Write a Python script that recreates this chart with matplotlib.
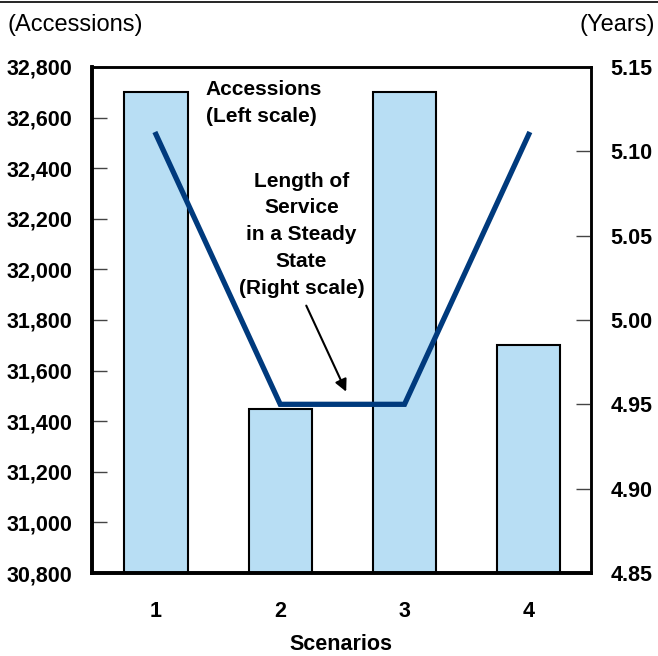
import matplotlib.pyplot as plt
from matplotlib.lines import Line2D

plt.rcParams['font.family'] = ['Liberation Sans', 'DejaVu Sans']

scenarios = [1, 2, 3, 4]
accessions = [32700, 31450, 32700, 31700]
service_years = [5.11, 4.95, 4.95, 5.11]
left_ticks = [30800, 31000, 31200, 31400, 31600, 31800, 32000, 32200, 32400, 32600, 32800]
right_ticks = [4.85, 4.90, 4.95, 5.00, 5.05, 5.10, 5.15]

fig = plt.figure(figsize=(6.58, 6.56), dpi=100)
ax = fig.add_axes([0.1398, 0.1265, 0.7582, 0.7715])

ax.bar(scenarios, accessions, width=0.51, color="#b8def4", edgecolor="black", linewidth=1.5, zorder=2)
ax.set_xlim(0.485, 4.5)
ax.set_ylim(30800, 32800)
ax.set_yticks(left_ticks)
ax.set_yticklabels([f"{v:,}" for v in left_ticks], fontsize=15.5, fontweight="bold")
ax.set_xticks(scenarios)
ax.set_xticklabels([str(s) for s in scenarios], fontsize=15.5, fontweight="bold")
ax.tick_params(axis="y", direction="in", length=11, width=1, color="#444444", pad=14)
ax.tick_params(axis="x", length=0, pad=20)
ax.set_xlabel("Scenarios", fontsize=15.5, fontweight="bold", labelpad=9)

ax2 = ax.twinx()
ax2.plot(scenarios, service_years, color="#003a7d", linewidth=3.8, solid_joinstyle="miter")
ax2.set_ylim(4.85, 5.15)
ax2.set_yticks(right_ticks)
ax2.set_yticklabels([f"{v:.2f}" for v in right_ticks], fontsize=15.5, fontweight="bold")
ax2.tick_params(axis="y", direction="in", length=11, width=1, color="#444444", pad=14)

for a in (ax, ax2):
    a.spines["left"].set_linewidth(2.6)
    a.spines["bottom"].set_linewidth(2.6)
    a.spines["top"].set_linewidth(1.8)
    a.spines["right"].set_linewidth(1.8)

ax2.text(1.4, 5.142, "Accessions\n(Left scale)", fontsize=15, fontweight="bold",
         ha="left", va="top", linespacing=1.5)
ax2.text(2.17, 5.088, "Length of\nService\nin a Steady\nState\n(Right scale)", fontsize=15,
         fontweight="bold", ha="center", va="top", linespacing=1.52)
ax2.annotate("", xy=(2.54, 4.956), xytext=(2.2, 5.01),
             arrowprops=dict(arrowstyle="-|>", color="black", lw=1.5, mutation_scale=18))

fig.text(0.012, 0.962, "(Accessions)", fontsize=17, ha="left", va="center")
fig.text(0.995, 0.962, "(Years)", fontsize=17, ha="right", va="center")
fig.add_artist(Line2D([0, 1], [0.997, 0.997], color="black", linewidth=1.2, transform=fig.transFigure))

fig.savefig("out.png", dpi=100)
